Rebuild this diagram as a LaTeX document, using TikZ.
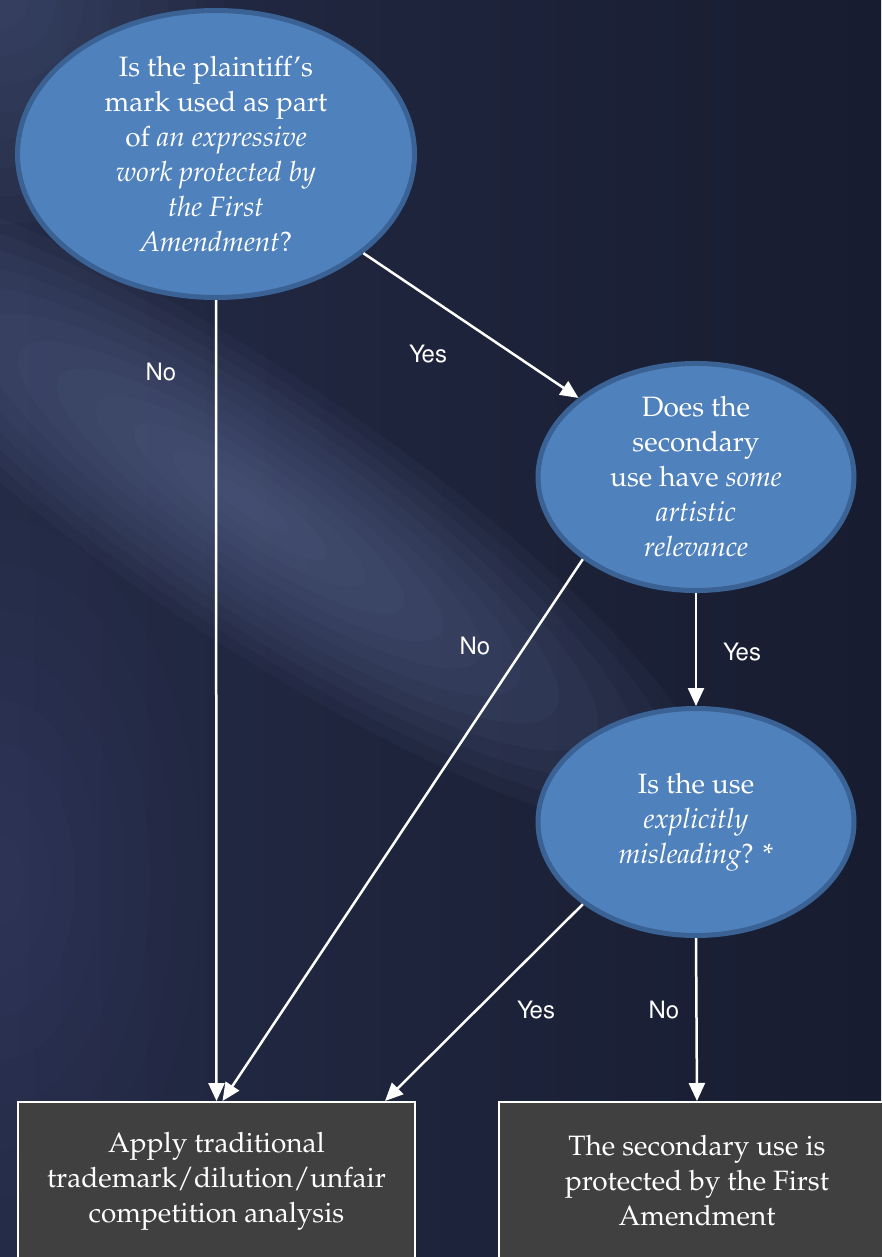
\documentclass[tikz,border=0pt]{standalone}
\usepackage[T1]{fontenc}
\usepackage{mathpazo}
\usepackage[scaled=0.92]{helvet}
\usetikzlibrary{shapes.geometric,arrows.meta}
\definecolor{bgdark}{HTML}{171C30}
\definecolor{bgmid}{HTML}{242B46}
\definecolor{glowcol}{HTML}{6A79A6}
\definecolor{qfill}{HTML}{4F81BD}
\definecolor{qedge}{HTML}{3A6294}
\definecolor{boxfill}{HTML}{404040}
\tikzset{
  question/.style={ellipse, fill=qfill, draw=qedge, line width=5pt, text=white,
    align=center, inner sep=0pt, font=\fontsize{28}{35}\selectfont},
  outcome/.style={rectangle, fill=boxfill, draw=white, line width=2pt, text=white,
    align=center, minimum width=397pt, minimum height=158pt,
    font=\fontsize{28}{35}\selectfont},
  arrow/.style={draw=white, line width=2.5pt, -{Triangle[length=18pt,width=16pt]}},
  answer/.style={text=white, font=\sffamily\fontsize{26}{30}\selectfont},
  glowring/.style={fill=glowcol, fill opacity=0.06}
}
\begin{document}
\begin{tikzpicture}[x=1pt,y=-1pt]
\useasboundingbox (0,0) rectangle (881,1257);
\shade[left color=bgmid, right color=bgdark] (0,0) rectangle (881,1257);
\begin{scope}
\clip (0,0) rectangle (881,1257);
\begin{scope}[shift={(250,505)}, rotate=-34]
\foreach \r in {1,...,12}
  \fill[glowring] (0,0) ellipse [x radius={46pt*\r}, y radius={11pt*\r}];
\end{scope}
\foreach \r in {1,...,8}
  \fill[glowring, fill opacity=0.045] (0,0) ellipse [x radius={28pt*\r}, y radius={28pt*\r}];
\foreach \r in {1,...,8}
  \fill[glowring, fill opacity=0.025] (0,880) ellipse [x radius={25pt*\r}, y radius={45pt*\r}];
\end{scope}

\node[question, minimum width=397pt, minimum height=287pt] (q1) at (216,154)
  {Is the plaintiff's\\ mark used as part\\ of \textit{an expressive}\\
   \textit{work protected by}\\ \textit{the First}\\ \textit{Amendment}?};
\node[question, minimum width=316pt, minimum height=226pt] (q2) at (696,477)
  {Does the\\ secondary\\ use have \textit{some}\\ \textit{artistic}\\ \textit{relevance}};
\node[question, minimum width=316pt, minimum height=227pt] (q3) at (696,822)
  {Is the use\\ \textit{explicitly}\\ \textit{misleading}? *};
\node[outcome] (out1) at (216.5,1181)
  {Apply traditional\\ trademark/dilution/unfair\\ competition analysis};
\node[outcome] (out2) at (697,1181)
  {The secondary use is\\ protected by the First\\ Amendment};

\draw[arrow] (q1.south) -- (out1.north);
\draw[arrow] (q1) -- (q2);
\draw[arrow] (q2.216) -- ([xshift=6pt]out1.north);
\draw[arrow] (q2.south) -- (q3.north);
\draw[arrow] (q3.216) -- ([xshift=-31pt]out1.north east);
\draw[arrow] (q3.south) -- (out2.north);

\node[answer] (no1) at (161,372) {No};
\node[answer] (yes1) at (428,354) {Yes};
\node[answer] (no2) at (475,646) {No};
\node[answer] (yes2) at (742,652) {Yes};
\node[answer] (yes3) at (536,1010) {Yes};
\node[answer] (no3) at (664,1010) {No};
\end{tikzpicture}
\end{document}
